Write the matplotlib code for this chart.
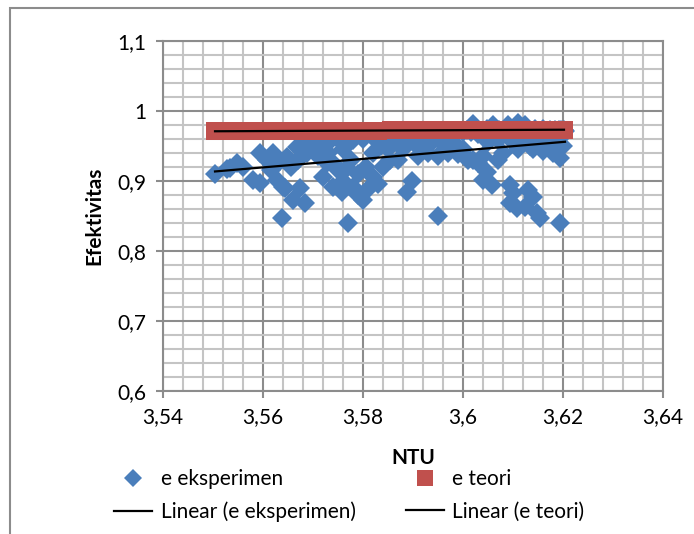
import numpy as np
import matplotlib.pyplot as plt
from matplotlib.ticker import MultipleLocator, FuncFormatter
from matplotlib.patches import Rectangle

plt.rcParams['font.family'] = ['Lato', 'DejaVu Sans']

# experimental points (NTU, efektivitas)
ntu_exp = [3.5504, 3.5528, 3.5534, 3.5548, 3.5560, 3.5580, 3.5594, 3.5594, 3.5608, 3.5620,
           3.5628, 3.5640, 3.5648, 3.5674, 3.5660, 3.5684, 3.5638, 3.5668, 3.5688, 3.5644,
           3.5630, 3.5615, 3.5655, 3.5670, 3.5690, 3.5700, 3.5710, 3.5720, 3.5730, 3.5740,
           3.5720, 3.5740, 3.5758, 3.5780, 3.5800, 3.5820, 3.5840, 3.5854, 3.5768, 3.5728,
           3.5770, 3.5760, 3.5790, 3.5810, 3.5830, 3.5750, 3.5760, 3.5775, 3.5790, 3.5805,
           3.5820, 3.5835, 3.5850, 3.5865, 3.5880, 3.5870, 3.5898, 3.5888, 3.5910, 3.5930,
           3.5950, 3.5970, 3.5990, 3.6010, 3.5950, 3.5900, 3.5920, 3.5940, 3.5960, 3.5980,
           3.6000, 3.6020, 3.6060, 3.6090, 3.6110, 3.6125, 3.6000, 3.6020, 3.6030, 3.6040,
           3.6048, 3.6040, 3.6058, 3.6070, 3.6080, 3.6094, 3.6100, 3.6130, 3.6140, 3.6094,
           3.6108, 3.6124, 3.6148, 3.6155, 3.6194, 3.6110, 3.6140, 3.6160, 3.6180, 3.6194,
           3.6190, 3.6135, 3.6170, 3.6050, 3.6070, 3.6100, 3.6120, 3.6150, 3.6180, 3.6200,
           3.5690, 3.5705, 3.5715, 3.5735, 3.5745, 3.5780, 3.5800, 3.5820, 3.5845, 3.5860,
           # points lying under the theory band
           3.5755, 3.5770, 3.5785, 3.5800, 3.5815, 3.5830, 3.5845, 3.5860, 3.5875, 3.5890,
           3.5905, 3.5920, 3.5935, 3.5950, 3.5965, 3.5980, 3.6000, 3.6008, 3.6016, 3.6024,
           3.6032, 3.6040, 3.6048, 3.6056, 3.6064, 3.6072, 3.6080, 3.6088, 3.6096, 3.6104,
           3.6112, 3.6120, 3.6128, 3.6136, 3.6144, 3.6152, 3.6160, 3.6168, 3.6176, 3.6184,
           3.6192, 3.6200, 3.6204, 3.6030, 3.6060, 3.6090, 3.6120, 3.6150, 3.6180, 3.6200,
           3.6085, 3.6100, 3.6115, 3.6130, 3.6145, 3.6160, 3.6175, 3.6190, 3.6202, 3.6196]
e_exp = [0.910, 0.917, 0.918, 0.925, 0.920, 0.901, 0.939, 0.897, 0.930, 0.939,
         0.901, 0.891, 0.934, 0.889, 0.872, 0.868, 0.847, 0.948, 0.939, 0.890,
         0.925, 0.915, 0.920, 0.930, 0.955, 0.945, 0.935, 0.955, 0.940, 0.925,
         0.905, 0.891, 0.884, 0.891, 0.872, 0.905, 0.920, 0.929, 0.918, 0.925,
         0.839, 0.900, 0.880, 0.888, 0.895, 0.915, 0.945, 0.930, 0.910, 0.920,
         0.940, 0.950, 0.945, 0.955, 0.945, 0.930, 0.900, 0.884, 0.935, 0.940,
         0.935, 0.940, 0.938, 0.930, 0.849, 0.955, 0.950, 0.957, 0.952, 0.955,
         0.945, 0.981, 0.979, 0.980, 0.982, 0.980, 0.940, 0.930, 0.925, 0.935,
         0.912, 0.901, 0.894, 0.930, 0.940, 0.894, 0.883, 0.887, 0.877, 0.868,
         0.861, 0.862, 0.854, 0.846, 0.839, 0.945, 0.945, 0.942, 0.940, 0.932,
         0.944, 0.950, 0.950, 0.955, 0.958, 0.955, 0.957, 0.955, 0.952, 0.950,
         0.960, 0.950, 0.960, 0.958, 0.962, 0.958, 0.960, 0.962, 0.958, 0.960,
         0.965, 0.964, 0.966, 0.963, 0.965, 0.966, 0.964, 0.965, 0.963, 0.966,
         0.965, 0.964, 0.966, 0.965, 0.963, 0.966, 0.970, 0.972, 0.969, 0.973,
         0.971, 0.970, 0.974, 0.972, 0.969, 0.973, 0.971, 0.970, 0.972, 0.974,
         0.969, 0.971, 0.973, 0.970, 0.972, 0.969, 0.974, 0.971, 0.970, 0.973,
         0.972, 0.969, 0.971, 0.966, 0.965, 0.967, 0.966, 0.965, 0.966, 0.965,
         0.972, 0.973, 0.971, 0.972, 0.974, 0.972, 0.973, 0.971, 0.972, 0.973]

# theoretical points
ntu_teori = [3.5504, 3.5530, 3.5555, 3.5580, 3.5605, 3.5630, 3.5655, 3.5680, 3.5705, 3.5730,
             3.5755, 3.5780, 3.5805, 3.5830, 3.5855, 3.5880, 3.5905, 3.5930, 3.5955, 3.5980,
             3.6005, 3.6030, 3.6055, 3.6080, 3.6105, 3.6130, 3.6155, 3.6180, 3.6202]
e_teori = [0.9706, 0.9707, 0.9708, 0.9708, 0.9709, 0.9710, 0.9711, 0.9712, 0.9712, 0.9713,
           0.9714, 0.9715, 0.9716, 0.9716, 0.9717, 0.9718, 0.9719, 0.9720, 0.9720, 0.9721,
           0.9722, 0.9723, 0.9723, 0.9724, 0.9725, 0.9726, 0.9726, 0.9727, 0.9728]

blue = '#4A7EBB'
red = '#C0504D'

fig = plt.figure(figsize=(6.94, 5.34), dpi=100)
ax = fig.add_axes([0.2349, 0.2684, 0.7204, 0.6554])

h1, = ax.plot(ntu_exp, e_exp, 'D', color=blue, ms=10, mew=0, label='e eksperimen', zorder=3)
h2, = ax.plot(ntu_teori, e_teori, 's', color=red, ms=13, mew=0, label='e teori', zorder=4)

# linear trendlines, fitted like Excel does
xs = np.array(ntu_exp)
k1 = np.polyfit(xs, e_exp, 1)
xl = np.array([xs.min(), xs.max()])
h3, = ax.plot(xl, np.polyval(k1, xl), color='black', lw=1.6, label='Linear (e eksperimen)', zorder=5)
xt = np.array(ntu_teori)
k2 = np.polyfit(xt, e_teori, 1)
xl2 = np.array([xt.min(), xt.max()])
h4, = ax.plot(xl2, np.polyval(k2, xl2), color='black', lw=1.6, label='Linear (e teori)', zorder=5)

ax.set_xlim(3.54, 3.64)
ax.set_ylim(0.6, 1.1)
ax.xaxis.set_major_locator(MultipleLocator(0.02))
ax.xaxis.set_minor_locator(MultipleLocator(0.004))
ax.yaxis.set_major_locator(MultipleLocator(0.1))
ax.yaxis.set_minor_locator(MultipleLocator(0.02))

def comma(v, pos):
    s = ('%.2f' % v).rstrip('0').rstrip('.')
    return s.replace('.', ',')

ax.xaxis.set_major_formatter(FuncFormatter(comma))
ax.yaxis.set_major_formatter(FuncFormatter(comma))

ax.grid(which='minor', color='#c4c4c4', lw=1.5, zorder=0)
ax.grid(which='major', color='#8c8c8c', lw=1.5, zorder=1)
ax.set_axisbelow(True)
for s in ax.spines.values():
    s.set_color('#8c8c8c')
    s.set_linewidth(1.5)
ax.tick_params(which='major', length=5, width=1.5, color='#8c8c8c', labelsize=15, pad=7)
ax.tick_params(which='minor', length=0)

ax.set_xlabel('NTU', fontsize=15, fontweight='bold', labelpad=15)
ax.set_ylabel('Efektivitas', fontsize=15, fontweight='bold', labelpad=9)

leg = ax.legend(handles=[h1, h3, h2, h4], loc='center', bbox_to_anchor=(0.503, 0.072),
                bbox_transform=fig.transFigure, ncol=2, frameon=False, fontsize=15,
                handlelength=1.85, handletextpad=0.4, columnspacing=2.4, labelspacing=0.62,
                borderaxespad=0)
leg.legend_handles[0].set_markersize(9)
leg.legend_handles[2].set_markersize(11)

# outer chart frame (cropped on right and bottom)
fig.patches.append(Rectangle((10 / 694, -0.05), 1.1, 1 - 8 / 534 + 0.05, transform=fig.transFigure,
                             fill=False, edgecolor='#8c8c8c', lw=1.5))

fig.savefig('out.png', dpi=100)
